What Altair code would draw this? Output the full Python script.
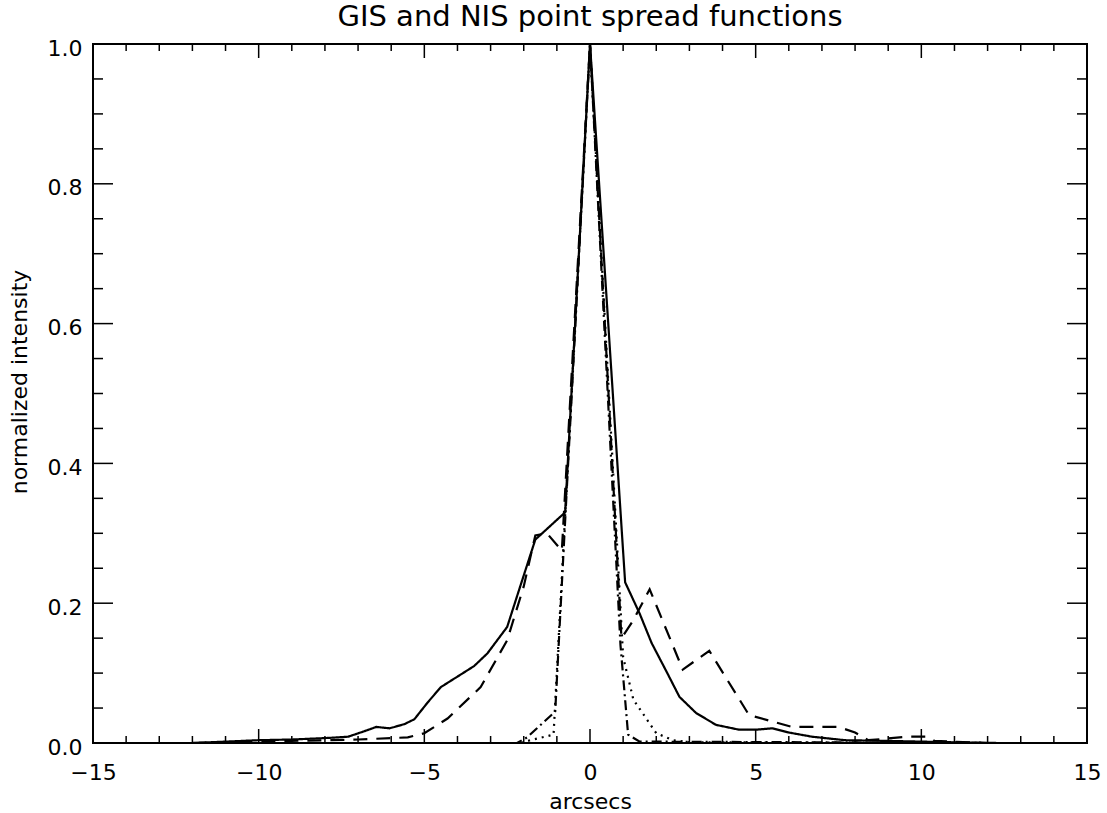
import altair as alt
import pandas as pd

# ---- data ----
SOLID_X = [-12, -11.5, -11, -10, -9, -8, -7.3, -6.8, -6.45, -6.05, -5.6, -5.3, -4.9, -4.5, -4.0, -3.5, -3.1,
           -2.5, -2.1, -1.65, -0.75, 0.0, 1.06, 1.5, 1.86, 2.3, 2.7, 3.2, 3.8, 4.5, 5.0, 5.5, 6.0, 6.7, 7.7,
           9.0, 10.0, 11.0, 12.3]
SOLID_Y = [0.0, 0.001, 0.002, 0.004, 0.005, 0.007, 0.009, 0.017, 0.023, 0.021, 0.027, 0.034, 0.058, 0.080,
           0.095, 0.110, 0.128, 0.166, 0.225, 0.291, 0.330, 1.0, 0.230, 0.185, 0.143, 0.103, 0.066, 0.043,
           0.026, 0.019, 0.019, 0.021, 0.015, 0.009, 0.004, 0.003, 0.002, 0.001, 0.0]

DASH_X = [-12, -10, -8, -7, -6, -5.5, -5.0, -4.3, -3.3, -2.5, -2.0, -1.65, -1.3, -0.85, 0.0, 0.95, 1.3, 1.8,
          2.8, 3.6, 4.8, 6.1, 7.5, 8.0, 8.4, 9.6, 10.2, 10.4, 12.0]
DASH_Y = [0.0, 0.002, 0.004, 0.005, 0.007, 0.008, 0.014, 0.035, 0.080, 0.147, 0.224, 0.297, 0.300, 0.275,
          1.0, 0.150, 0.175, 0.220, 0.105, 0.132, 0.040, 0.023, 0.023, 0.015, 0.004, 0.009, 0.009, 0.003, 0.0]

DOT_X = [-12, -2.1, -1.8, -1.1, 0.0, 1.0, 1.31, 2.0, 2.5, 3.0, 12.0]
DOT_Y = [0.0, 0.0, 0.004, 0.012, 1.0, 0.123, 0.062, 0.014, 0.004, 0.001, 0.0]

DASHDOT_X = [-12, -2.2, -1.9, -1.05, 0.0, 0.92, 1.15, 1.5, 12.0]
DASHDOT_Y = [0.0, 0.0, 0.008, 0.045, 1.0, 0.140, 0.012, 0.002, 0.0]

SERIES = ["solid", "dashed", "dotted", "dash-dot"]
DASHES = [[1, 0], [14, 9], [2, 5], [10, 4, 2, 4]]

X_MAJOR = [-15, -10, -5, 0, 5, 10, 15]
X_MINOR = [v for v in range(-15, 16) if v % 5 != 0]
Y_MAJOR = [0.0, 0.2, 0.4, 0.6, 0.8, 1.0]
Y_MINOR = [0.05, 0.1, 0.15, 0.25, 0.3, 0.35, 0.45, 0.5, 0.55, 0.65, 0.7, 0.75, 0.85, 0.9, 0.95]

TITLE = "GIS and NIS point spread functions"
XTITLE = "arcsecs"
YTITLE = "normalized intensity"

# ---- build table ----
rows = []
for name, xs, ys in zip(SERIES, [SOLID_X, DASH_X, DOT_X, DASHDOT_X], [SOLID_Y, DASH_Y, DOT_Y, DASHDOT_Y]):
    for i, (a, b) in enumerate(zip(xs, ys)):
        rows.append({"series": name, "x": a, "y": b, "i": i})
df = pd.DataFrame(rows)

W, H = 994, 699
FONT = "DejaVu Sans"

xscale = alt.Scale(domain=[-15, 15], nice=False, zero=False)
yscale = alt.Scale(domain=[0, 1], nice=False)

xaxis = alt.Axis(values=X_MAJOR, format="d", ticks=False, domain=False, grid=False,
                 labelFontSize=22, labelFont=FONT, labelPadding=19, labelColor="black",
                 labelFlush=False, labelOverlap=False,
                 title=XTITLE, titleFont=FONT, titleFontSize=22, titleFontWeight="normal",
                 titleColor="black", titleBaseline="alphabetic", titleY=65, titleX=W / 2)
yaxis = alt.Axis(values=Y_MAJOR, format=".1f", ticks=False, domain=False, grid=False,
                 labelFontSize=22, labelFont=FONT, labelPadding=11, labelColor="black",
                 labelOffset=4, labelFlush=False, labelOverlap=False,
                 title=YTITLE, titleFont=FONT, titleFontSize=22, titleFontWeight="normal",
                 titleColor="black", titleX=-62, titleY=H / 2 - 12)

lines = alt.Chart(df).mark_line(color="black", strokeWidth=2.2, clip=True).encode(
    x=alt.X("x:Q", scale=xscale, axis=xaxis),
    y=alt.Y("y:Q", scale=yscale, axis=yaxis),
    strokeDash=alt.StrokeDash("series:N", scale=alt.Scale(domain=SERIES, range=DASHES), legend=None),
    order="i:Q",
)


def xticks(vals, length):
    d = pd.DataFrame({"x": vals})
    base = alt.Chart(d).mark_rule(color="black", strokeWidth=1.5)
    enc = alt.X("x:Q", scale=xscale, axis=xaxis)
    bottom = base.encode(x=enc, y=alt.value(H), y2=alt.value(H - length))
    top = base.encode(x=enc, y=alt.value(0), y2=alt.value(length))
    return [bottom, top]


def yticks(vals, length):
    d = pd.DataFrame({"y": vals})
    base = alt.Chart(d).mark_rule(color="black", strokeWidth=1.5)
    enc = alt.Y("y:Q", scale=yscale, axis=yaxis)
    left = base.encode(y=enc, x=alt.value(0), x2=alt.value(length))
    right = base.encode(y=enc, x=alt.value(W), x2=alt.value(W - length))
    return [left, right]


layers = [lines] + xticks(X_MAJOR, 14) + xticks(X_MINOR, 7) + yticks(Y_MAJOR, 20) + yticks(Y_MINOR, 10)

chart = alt.layer(*layers).properties(
    width=W, height=H,
    title=alt.TitleParams(TITLE, font=FONT, fontSize=29, fontWeight="normal", color="black",
                          anchor="middle", offset=5),
    padding={"left": 93, "top": 44, "right": 20, "bottom": 70},
    autosize="none",
    background="white",
).configure_view(stroke="black", strokeWidth=2)

chart.save("out.html", embed_options={"renderer": "svg", "actions": False})
